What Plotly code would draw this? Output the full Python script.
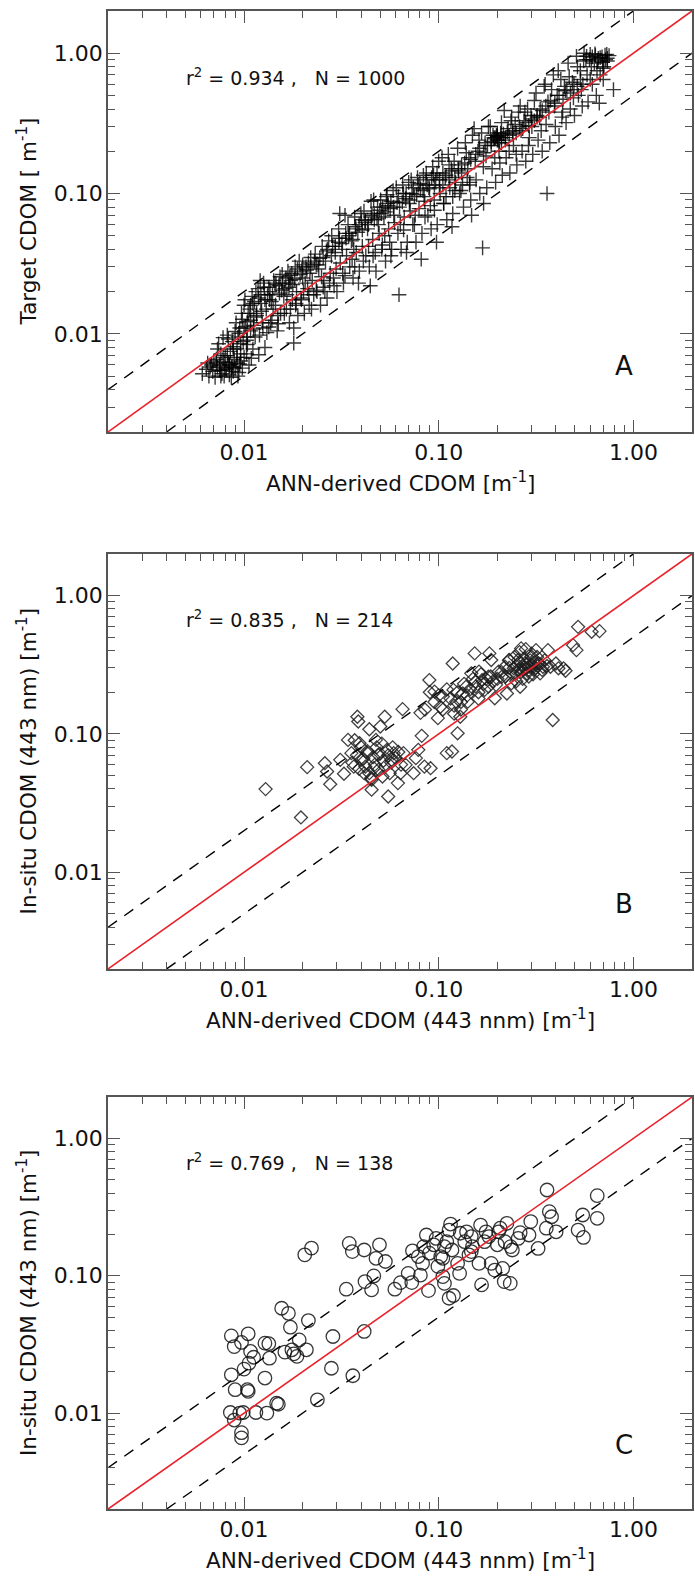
import numpy as np
import plotly.graph_objects as go

# ---------------- data ----------------
# panel A : ANN-derived vs target CDOM (plus markers)
a_x = [0.0061, 0.0064, 0.0066, 0.0068, 0.0069, 0.0070, 0.0067, 0.0065,
       0.0071, 0.0072, 0.0073, 0.0074, 0.0075, 0.0076, 0.0077, 0.0078, 0.0079, 0.0080, 0.0073, 0.0076, 0.0078, 0.0075,
       0.0081, 0.0082, 0.0083, 0.0084, 0.0085, 0.0086, 0.0087, 0.0088, 0.0089, 0.0090, 0.0082, 0.0084, 0.0086, 0.0088, 0.0090, 0.0083,
       0.0091, 0.0092, 0.0093, 0.0094, 0.0095, 0.0096, 0.0097, 0.0098, 0.0099, 0.0100, 0.0092, 0.0094, 0.0096, 0.0098, 0.0100, 0.0093,
       0.0101, 0.0103, 0.0104, 0.0106, 0.0107, 0.0108, 0.0110, 0.0111, 0.0112, 0.0113, 0.0114, 0.0102, 0.0105, 0.0109, 0.0112, 0.0115, 0.0104, 0.0108,
       0.0116, 0.0118, 0.0120, 0.0122, 0.0124, 0.0126, 0.0128, 0.0130, 0.0132, 0.0134, 0.0119, 0.0123, 0.0127, 0.0131, 0.0135, 0.0121,
       0.0136, 0.0139, 0.0142, 0.0145, 0.0148, 0.0151, 0.0154, 0.0157, 0.0160, 0.0138, 0.0144, 0.0150, 0.0156, 0.0141, 0.0153,
       0.0162, 0.0165, 0.0168, 0.0171, 0.0174, 0.0177, 0.0180, 0.0183, 0.0186, 0.0189, 0.0166, 0.0172, 0.0178, 0.0184, 0.0180, 0.0170,
       0.0192, 0.0196, 0.0200, 0.0204, 0.0208, 0.0212, 0.0216, 0.0220, 0.0224, 0.0228, 0.0198, 0.0206, 0.0214, 0.0222, 0.0202, 0.0218,
       0.0232, 0.0237, 0.0242, 0.0247, 0.0252, 0.0257, 0.0262, 0.0267, 0.0272, 0.0277, 0.0235, 0.0245, 0.0255, 0.0265, 0.0275, 0.0250,
       0.0282, 0.0288, 0.0294, 0.0300, 0.0306, 0.0312, 0.0318, 0.0324, 0.0330, 0.0336, 0.0285, 0.0297, 0.0309, 0.0321, 0.0333, 0.0310,
       0.0342, 0.0349, 0.0356, 0.0363, 0.0370, 0.0377, 0.0384, 0.0391, 0.0398, 0.0405, 0.0345, 0.0359, 0.0373, 0.0387, 0.0401, 0.0366,
       0.0413, 0.0422, 0.0431, 0.0440, 0.0449, 0.0458, 0.0467, 0.0476, 0.0485, 0.0494, 0.0418, 0.0436, 0.0454, 0.0472, 0.0490, 0.0445, 0.0463,
       0.0503, 0.0513, 0.0523, 0.0533, 0.0543, 0.0553, 0.0563, 0.0573, 0.0583, 0.0593, 0.0508, 0.0528, 0.0548, 0.0568, 0.0588, 0.0538,
       0.0605, 0.0617, 0.0629, 0.0641, 0.0653, 0.0665, 0.0677, 0.0689, 0.0701, 0.0713, 0.0611, 0.0635, 0.0659, 0.0683, 0.0707, 0.0625,
       0.0722, 0.0736, 0.0750, 0.0764, 0.0778, 0.0792, 0.0806, 0.0820, 0.0834, 0.0848, 0.0729, 0.0757, 0.0785, 0.0813, 0.0841,
       0.0863, 0.0880, 0.0897, 0.0914, 0.0931, 0.0948, 0.0965, 0.0982, 0.0999, 0.1016, 0.0872, 0.0906, 0.0940, 0.0974, 0.1008,
       0.1040, 0.1060, 0.1080, 0.1100, 0.1120, 0.1140, 0.1160, 0.1180, 0.1200, 0.1220, 0.1050, 0.1090, 0.1130, 0.1170, 0.1210,
       0.1250, 0.1280, 0.1310, 0.1340, 0.1370, 0.1400, 0.1430, 0.1460, 0.1490, 0.1265, 0.1325, 0.1385, 0.1445, 0.1475,
       0.1520, 0.1555, 0.1590, 0.1625, 0.1660, 0.1695, 0.1730, 0.1765, 0.1800, 0.1540, 0.1610, 0.1680, 0.1750, 0.1700,
       0.1840, 0.1880, 0.1920, 0.1960, 0.2000, 0.2040, 0.2080, 0.2120, 0.1860, 0.1940, 0.2020, 0.2100, 0.1980, 0.2060,
       0.2170, 0.2220, 0.2270, 0.2320, 0.2370, 0.2420, 0.2470, 0.2520, 0.2570, 0.2200, 0.2300, 0.2400, 0.2500, 0.2350,
       0.2620, 0.2680, 0.2740, 0.2800, 0.2860, 0.2920, 0.2980, 0.3040, 0.3100, 0.2650, 0.2770, 0.2890, 0.3010,
       0.3160, 0.3240, 0.3320, 0.3400, 0.3480, 0.3560, 0.3640, 0.3720, 0.3800, 0.3200, 0.3360, 0.3520, 0.3680, 0.3600,
       0.3880, 0.3970, 0.4060, 0.4150, 0.4240, 0.4330, 0.4420, 0.4510, 0.3930, 0.4110, 0.4290, 0.4470,
       0.4620, 0.4740, 0.4860, 0.4980, 0.5100, 0.5220, 0.5340, 0.5460, 0.5580, 0.4680, 0.4920, 0.5160, 0.5400,
       0.5700, 0.5850, 0.6000, 0.6150, 0.6300, 0.6450, 0.6600, 0.6750, 0.5780, 0.6080, 0.6380, 0.6680,
       0.6900, 0.7050, 0.7200, 0.7350, 0.7500, 0.7900, 0.7000, 0.7300]
a_y = [0.0052, 0.0056, 0.0050, 0.0060, 0.0054, 0.0064, 0.0058, 0.0062,
       0.0049, 0.0066, 0.0058, 0.0085, 0.0055, 0.0072, 0.0052, 0.0094, 0.0063, 0.0057, 0.0078, 0.0050, 0.0068, 0.0060,
       0.0056, 0.0098, 0.0062, 0.0051, 0.0075, 0.0058, 0.0088, 0.0054, 0.0066, 0.0104, 0.0070, 0.0060, 0.0049, 0.0081, 0.0057, 0.0092,
       0.0120, 0.0062, 0.0095, 0.0053, 0.0110, 0.0072, 0.0140, 0.0057, 0.0088, 0.0160, 0.0078, 0.0101, 0.0064, 0.0127, 0.0068, 0.0050,
       0.0175, 0.0090, 0.0122, 0.0060, 0.0150, 0.0105, 0.0185, 0.0078, 0.0132, 0.0170, 0.0095, 0.0113, 0.0140, 0.0067, 0.0115, 0.0200, 0.0084, 0.0160,
       0.0135, 0.0210, 0.0098, 0.0165, 0.0120, 0.0230, 0.0080, 0.0150, 0.0190, 0.0112, 0.0071, 0.0145, 0.0215, 0.0102, 0.0175, 0.0240,
       0.0200, 0.0125, 0.0240, 0.0160, 0.0105, 0.0220, 0.0140, 0.0265, 0.0185, 0.0170, 0.0230, 0.0118, 0.0205, 0.0150, 0.0255,
       0.0210, 0.0150, 0.0280, 0.0120, 0.0240, 0.0175, 0.0086, 0.0300, 0.0200, 0.0135, 0.0190, 0.0260, 0.0225, 0.0160, 0.0110, 0.0230,
       0.0330, 0.0180, 0.0250, 0.0140, 0.0300, 0.0210, 0.0160, 0.0350, 0.0240, 0.0190, 0.0280, 0.0230, 0.0320, 0.0150, 0.0200, 0.0270,
       0.0370, 0.0200, 0.0290, 0.0160, 0.0420, 0.0240, 0.0330, 0.0180, 0.0460, 0.0270, 0.0310, 0.0345, 0.0215, 0.0390, 0.0230, 0.0255,
       0.0500, 0.0250, 0.0380, 0.0200, 0.0560, 0.0320, 0.0440, 0.0230, 0.0700, 0.0360, 0.0420, 0.0290, 0.0480, 0.0270, 0.0520, 0.0720,
       0.0600, 0.0300, 0.0460, 0.0250, 0.0680, 0.0380, 0.0530, 0.0280, 0.0720, 0.0420, 0.0500, 0.0340, 0.0580, 0.0230, 0.0650, 0.0400,
       0.0750, 0.0360, 0.0560, 0.0300, 0.0880, 0.0470, 0.0650, 0.0280, 0.0800, 0.0520, 0.0620, 0.0420, 0.0700, 0.0380, 0.0600, 0.0220, 0.0900,
       0.0900, 0.0430, 0.0680, 0.0330, 0.0980, 0.0560, 0.0780, 0.0400, 0.1050, 0.0620, 0.0720, 0.0500, 0.0850, 0.0360, 0.0700, 0.0950,
       0.1100, 0.0520, 0.0800, 0.0400, 0.1150, 0.0680, 0.0920, 0.0450, 0.1200, 0.0750, 0.0860, 0.0600, 0.1000, 0.0380, 0.0850, 0.0190,
       0.1250, 0.0600, 0.0950, 0.0450, 0.1300, 0.0780, 0.1080, 0.0520, 0.1350, 0.0880, 0.1000, 0.0700, 0.1150, 0.0340, 0.0950,
       0.1400, 0.0700, 0.1080, 0.0560, 0.1550, 0.0900, 0.1250, 0.0600, 0.1700, 0.1000, 0.1150, 0.0820, 0.1350, 0.0450, 0.1100,
       0.1800, 0.0850, 0.1300, 0.0650, 0.1900, 0.1100, 0.1500, 0.0720, 0.1700, 0.1200, 0.1400, 0.0950, 0.1600, 0.0580, 0.1050,
       0.2100, 0.1000, 0.1600, 0.0800, 0.2300, 0.1300, 0.1800, 0.0900, 0.2600, 0.1450, 0.1150, 0.1950, 0.1200, 0.0700,
       0.2900, 0.1250, 0.2000, 0.1000, 0.2700, 0.1550, 0.2300, 0.1100, 0.3000, 0.1700, 0.2400, 0.0410, 0.1850, 0.0850,
       0.3000, 0.1500, 0.2500, 0.1200, 0.2550, 0.2000, 0.2700, 0.1350, 0.2200, 0.1800, 0.2400, 0.3200, 0.2600, 0.1650,
       0.3900, 0.1800, 0.2900, 0.1400, 0.3500, 0.2200, 0.3100, 0.1600, 0.3800, 0.2500, 0.2000, 0.2650, 0.1900, 0.3300,
       0.4200, 0.2000, 0.3300, 0.1700, 0.4000, 0.2500, 0.3600, 0.1900, 0.4600, 0.2800, 0.3800, 0.2200, 0.3000,
       0.5200, 0.2400, 0.4000, 0.2000, 0.5800, 0.3100, 0.4500, 0.2300, 0.5500, 0.3500, 0.2800, 0.6000, 0.3800, 0.1000,
       0.7000, 0.3000, 0.5000, 0.2600, 0.6500, 0.3800, 0.5800, 0.3200, 0.4200, 0.7500, 0.3500, 0.5400,
       0.8500, 0.4000, 0.6200, 0.3600, 0.9500, 0.5000, 0.7500, 0.4200, 1.0000, 0.6800, 0.4800, 0.8000, 0.5500,
       0.9000, 0.4500, 0.9800, 0.6000, 0.8500, 0.5000, 0.9200, 0.7000, 0.7000, 0.8000, 0.9600, 0.4400,
       0.9400, 0.8000, 0.9000, 0.8800, 0.9600, 0.5500, 0.6500, 0.9800]

# panel A, the denser core of the band
a_x_core = [0.0072, 0.0076, 0.0080, 0.0084, 0.0088, 0.0092, 0.0096, 0.0100, 0.0104, 0.0108, 0.0112, 0.0116,
            0.0079, 0.0087, 0.0095, 0.0103, 0.0111, 0.0119,
            0.0122, 0.0128, 0.0134, 0.0140, 0.0146, 0.0152, 0.0158, 0.0164, 0.0170, 0.0176, 0.0182, 0.0188,
            0.0194, 0.0200, 0.0210, 0.0220, 0.0230, 0.0240,
            0.0125, 0.0137, 0.0149, 0.0161, 0.0173, 0.0185, 0.0197, 0.0215, 0.0235,
            0.0255, 0.0268, 0.0281, 0.0294, 0.0307, 0.0320, 0.0334, 0.0348, 0.0362, 0.0376, 0.0390, 0.0405,
            0.0420, 0.0435, 0.0450, 0.0466, 0.0482, 0.0498, 0.0515, 0.0532, 0.0550, 0.0568, 0.0586,
            0.0260, 0.0290, 0.0330, 0.0370, 0.0410, 0.0460, 0.0510, 0.0560,
            0.0620, 0.0650, 0.0680, 0.0710, 0.0740, 0.0770, 0.0800, 0.0830, 0.0860, 0.0890, 0.0920, 0.0950,
            0.0980, 0.1010, 0.1050, 0.1090, 0.1130, 0.1170, 0.1210, 0.1260, 0.1310, 0.1360, 0.1410, 0.1460,
            0.0660, 0.0750, 0.0850, 0.0950, 0.1060, 0.1180, 0.1300, 0.1440,
            0.1550, 0.1620, 0.1700, 0.1780, 0.1860, 0.1940, 0.2000, 0.2050, 0.2100, 0.2150, 0.2200, 0.2250,
            0.2300, 0.2400, 0.2500, 0.2600, 0.2700, 0.2800, 0.2900, 0.3000, 0.3100, 0.3200, 0.3300, 0.3400,
            0.1900, 0.2000, 0.2100, 0.2000, 0.1950,
            0.3550, 0.3750, 0.3950, 0.4150, 0.4350, 0.4550, 0.4750, 0.4950, 0.5150, 0.5350,
            0.5550, 0.5750, 0.5950, 0.6150, 0.6350, 0.6550, 0.6750, 0.6950, 0.7150, 0.7350,
            0.6000, 0.6500, 0.7000, 0.5500]
a_y_core = [0.0062, 0.0055, 0.0070, 0.0060, 0.0078, 0.0068, 0.0085, 0.0110, 0.0095, 0.0125, 0.0108, 0.0140,
            0.0050, 0.0058, 0.0061, 0.0072, 0.0165, 0.0180,
            0.0190, 0.0175, 0.0215, 0.0190, 0.0225, 0.0195, 0.0230, 0.0250, 0.0215, 0.0270, 0.0245, 0.0290,
            0.0265, 0.0310, 0.0285, 0.0300, 0.0330, 0.0310,
            0.0110, 0.0120, 0.0135, 0.0140, 0.0150, 0.0165, 0.0175, 0.0190, 0.0205,
            0.0350, 0.0400, 0.0360, 0.0420, 0.0450, 0.0400, 0.0480, 0.0520, 0.0470, 0.0560, 0.0600, 0.0550,
            0.0640, 0.0600, 0.0680, 0.0720, 0.0660, 0.0760, 0.0800, 0.0740, 0.0820, 0.0880, 0.0800,
            0.0200, 0.0220, 0.0260, 0.0300, 0.0330, 0.0360, 0.0400, 0.0450,
            0.0950, 0.0870, 0.1000, 0.0900, 0.1100, 0.0980, 0.1180, 0.1050, 0.1250, 0.1100, 0.1300, 0.1150,
            0.1400, 0.1250, 0.1150, 0.1350, 0.1250, 0.1450, 0.1300, 0.1500, 0.1400, 0.1650, 0.1500, 0.1750,
            0.0550, 0.0600, 0.0680, 0.0760, 0.0850, 0.0950, 0.1050, 0.1150,
            0.1900, 0.2100, 0.1950, 0.2200, 0.2350, 0.2450, 0.2550, 0.2300, 0.2500, 0.2650, 0.2400, 0.2750,
            0.2600, 0.2800, 0.2700, 0.3000, 0.2900, 0.3200, 0.3050, 0.3400, 0.3300, 0.3600, 0.3500, 0.3900,
            0.2600, 0.2400, 0.2300, 0.2700, 0.2500,
            0.4200, 0.4600, 0.4400, 0.5000, 0.4700, 0.5500, 0.5200, 0.6000, 0.5800, 0.6500,
            0.8800, 0.9500, 0.9000, 0.9400, 0.9900, 0.8800, 0.9300, 0.8600, 0.9700, 0.9200,
            0.6500, 0.7500, 0.7800, 0.6000]

# panel B : ANN-derived vs in-situ CDOM at 443 nm (diamonds)
b_x = [0.0129, 0.0196, 0.0211, 0.0260, 0.0267, 0.0277, 0.0312, 0.0326, 0.0342, 0.0356,
       0.0366, 0.0382, 0.0386, 0.0392, 0.0400, 0.0414, 0.0429, 0.0440, 0.0452, 0.0452,
       0.0464, 0.0476, 0.0488, 0.0501, 0.0514, 0.0528, 0.0542, 0.0550, 0.0572, 0.0587,
       0.0617, 0.0636, 0.0652, 0.0659, 0.0676, 0.0743, 0.0763, 0.0785, 0.0806, 0.0818,
       0.0844, 0.0895, 0.0908, 0.0952, 0.0990, 0.102, 0.105, 0.110, 0.117, 0.118,
       0.119, 0.123, 0.125, 0.129, 0.133, 0.138, 0.141, 0.147, 0.153, 0.154,
       0.161, 0.167, 0.172, 0.180, 0.182, 0.186, 0.194, 0.197, 0.203, 0.211,
       0.219, 0.224, 0.230, 0.236, 0.243, 0.250, 0.256, 0.262, 0.265, 0.270,
       0.277, 0.284, 0.291, 0.300, 0.308, 0.316, 0.324, 0.332, 0.343, 0.364,
       0.375, 0.385, 0.400, 0.412, 0.438, 0.448, 0.490, 0.510, 0.520, 0.610, 0.670,
       0.036, 0.038, 0.039, 0.041, 0.042, 0.043, 0.044, 0.046, 0.047, 0.048,
       0.049, 0.050, 0.052, 0.053, 0.055, 0.057, 0.058, 0.060, 0.062, 0.064,
       0.040, 0.037, 0.045, 0.051, 0.056,
       0.200, 0.210, 0.220, 0.230, 0.240, 0.250, 0.255, 0.260, 0.265, 0.270,
       0.275, 0.280, 0.285, 0.290, 0.295, 0.300, 0.305, 0.310, 0.315, 0.320,
       0.330, 0.340, 0.350, 0.360, 0.230, 0.245, 0.260, 0.280, 0.300, 0.250, 0.270, 0.290,
       0.095, 0.100, 0.105, 0.110, 0.115, 0.120, 0.125, 0.130, 0.135, 0.140,
       0.145, 0.150, 0.155, 0.160, 0.165, 0.170, 0.175, 0.180, 0.185, 0.190,
       0.120, 0.130, 0.160, 0.085, 0.090]
b_y = [0.0399, 0.0249, 0.0575, 0.0614, 0.0535, 0.0433, 0.0649, 0.0515, 0.0905, 0.0726,
       0.0580, 0.133, 0.123, 0.0857, 0.0649, 0.0520, 0.0726, 0.108, 0.0466, 0.0395,
       0.0565, 0.0905, 0.0706, 0.113, 0.0492, 0.133, 0.0767, 0.0353, 0.0649, 0.0726,
       0.0441, 0.0520, 0.151, 0.0726, 0.0597, 0.0520, 0.0668, 0.0767, 0.142, 0.0968,
       0.0580, 0.245, 0.0565, 0.202, 0.130, 0.157, 0.186, 0.0726, 0.0746, 0.323,
       0.208, 0.171, 0.101, 0.133, 0.196, 0.219, 0.171, 0.274, 0.382, 0.238,
       0.282, 0.245, 0.208, 0.259, 0.382, 0.342, 0.181, 0.226, 0.282, 0.259,
       0.306, 0.196, 0.342, 0.232, 0.298, 0.274, 0.342, 0.219, 0.415, 0.290,
       0.323, 0.274, 0.306, 0.361, 0.290, 0.403, 0.323, 0.274, 0.306, 0.403,
       0.306, 0.126, 0.323, 0.298, 0.298, 0.286, 0.438, 0.403, 0.594, 0.547, 0.553,
       0.062, 0.070, 0.056, 0.066, 0.058, 0.075, 0.052, 0.068, 0.060, 0.080,
       0.055, 0.072, 0.064, 0.058, 0.070, 0.062, 0.080, 0.067, 0.074, 0.060,
       0.080, 0.090, 0.048, 0.085, 0.052,
       0.25, 0.28, 0.26, 0.30, 0.27, 0.31, 0.29, 0.33, 0.28, 0.31,
       0.35, 0.30, 0.32, 0.29, 0.34, 0.31, 0.27, 0.33, 0.30, 0.36,
       0.32, 0.29, 0.34, 0.31, 0.34, 0.36, 0.39, 0.41, 0.38, 0.24, 0.25, 0.26,
       0.17, 0.19, 0.15, 0.21, 0.18, 0.16, 0.20, 0.17, 0.23, 0.19,
       0.21, 0.25, 0.22, 0.20, 0.27, 0.23, 0.25, 0.22, 0.26, 0.24,
       0.14, 0.15, 0.18, 0.15, 0.20]

# panel C : ANN-derived vs in-situ CDOM at 443 nm (circles)
c_x = [0.0086, 0.0089, 0.0105, 0.0097, 0.0108, 0.0112, 0.0106, 0.0100, 0.0086, 0.0090,
       0.0104, 0.0105, 0.0085, 0.0089, 0.0095, 0.0099, 0.0115, 0.0131, 0.0097, 0.0097,
       0.0128, 0.0128, 0.0134, 0.0135, 0.0147, 0.0150, 0.0156, 0.0169, 0.0173, 0.0162,
       0.0176, 0.0180, 0.0187, 0.0209, 0.0192, 0.0214, 0.0205, 0.0222, 0.0238, 0.0281,
       0.0286, 0.0335, 0.0347, 0.0360, 0.0362, 0.0414, 0.0414, 0.0418, 0.0452, 0.0464,
       0.0476, 0.0496, 0.0532, 0.0595, 0.0636, 0.0697, 0.0727, 0.0733, 0.0805, 0.0785,
       0.0836, 0.0864, 0.0886, 0.0895, 0.0942, 0.0990, 0.1024, 0.105, 0.105, 0.107,
       0.110, 0.113, 0.115, 0.113, 0.119, 0.125, 0.128, 0.129, 0.136, 0.143,
       0.147, 0.149, 0.164, 0.161, 0.166, 0.172, 0.175, 0.186, 0.194, 0.200,
       0.207, 0.213, 0.217, 0.219, 0.224, 0.233, 0.234, 0.239, 0.256, 0.262,
       0.291, 0.297, 0.324, 0.357, 0.360, 0.370, 0.380, 0.401, 0.520, 0.549,
       0.554, 0.652, 0.652, 0.107, 0.117, 0.139, 0.203, 0.0826, 0.147, 0.097, 0.181]
c_y = [0.0365, 0.0305, 0.0378, 0.0327, 0.0281, 0.0255, 0.0231, 0.0209, 0.0190, 0.0148,
       0.0148, 0.0144, 0.0101, 0.0089, 0.0100, 0.0101, 0.0101, 0.0100, 0.0072, 0.0066,
       0.0180, 0.0323, 0.0320, 0.0251, 0.0118, 0.0116, 0.0580, 0.0533, 0.0422, 0.0278,
       0.0289, 0.0270, 0.0259, 0.0289, 0.0341, 0.0472, 0.142, 0.159, 0.0125, 0.0212,
       0.0361, 0.0798, 0.172, 0.150, 0.0187, 0.154, 0.0393, 0.0907, 0.0789, 0.0997,
       0.134, 0.168, 0.127, 0.0798, 0.0891, 0.104, 0.0892, 0.152, 0.101, 0.138,
       0.163, 0.198, 0.078, 0.146, 0.168, 0.117, 0.138, 0.134, 0.0986, 0.088,
       0.177, 0.215, 0.238, 0.0686, 0.0718, 0.123, 0.104, 0.204, 0.177, 0.142,
       0.193, 0.163, 0.234, 0.123, 0.0858, 0.177, 0.209, 0.123, 0.110, 0.168,
       0.222, 0.113, 0.0907, 0.177, 0.241, 0.088, 0.163, 0.154, 0.187, 0.206,
       0.198, 0.248, 0.158, 0.222, 0.421, 0.293, 0.269, 0.209, 0.215, 0.277,
       0.190, 0.262, 0.383, 0.163, 0.154, 0.209, 0.209, 0.123, 0.150, 0.187, 0.193]

# reference lines: 1:1, x2 and x0.5
one_x = [0.002, 2.0]
one_y = [0.002, 2.0]
up_x = [0.002, 1.0]
up_y = [0.004, 2.0]
lo_x = [0.004, 2.0]
lo_y = [0.002, 1.0]

tick_vals = [0.01, 0.1, 1.0]
tick_text = ['0.01', '0.10', '1.00']
minor_vals = [m * 10.0 ** e for e in (-3, -2, -1, 0) for m in range(2, 10) if 0.002 <= m * 10.0 ** e <= 2]

stats = ['r<sup>2</sup> = 0.934 ,\u00a0\u00a0\u00a0N = 1000',
         'r<sup>2</sup> = 0.835 ,\u00a0\u00a0\u00a0N = 214',
         'r<sup>2</sup> = 0.769 ,\u00a0\u00a0\u00a0N = 138']
letters = ['A', 'B', 'C']
x_titles = ['ANN-derived CDOM [m<sup>-1</sup>]',
            'ANN-derived CDOM (443 nnm) [m<sup>-1</sup>]',
            'ANN-derived CDOM (443 nnm) [m<sup>-1</sup>]']
y_titles = ['Target CDOM [ m<sup>-1</sup>]',
            'In-situ CDOM (443 nm) [m<sup>-1</sup>]',
            'In-situ CDOM (443 nm) [m<sup>-1</sup>]']

# ---------------- figure ----------------
W, H = 695, 1584
FONT = 'DejaVu Sans, Liberation Sans, Arial, sans-serif'
domains = [[0.7273, 0.9931], [0.3883, 0.6503], [0.0473, 0.3074]]

markers = [
    dict(symbol='cross-thin', size=10.5, color='rgba(0,0,0,0.78)',
         line=dict(width=1.4, color='rgba(0,0,0,0.78)')),
    dict(symbol='diamond-open', size=10, color='rgba(30,30,30,0.85)',
         line=dict(width=1.3, color='rgba(30,30,30,0.85)')),
    dict(symbol='circle-open', size=13.5, color='rgba(20,20,20,0.85)',
         line=dict(width=1.3, color='rgba(20,20,20,0.85)')),
]
series = [(a_x + a_x_core, a_y + a_y_core), (b_x, b_y), (c_x, c_y)]

fig = go.Figure()
layout = dict(width=W, height=H, paper_bgcolor='white', plot_bgcolor='white',
              margin=dict(l=108, r=3, t=0, b=0), showlegend=False,
              font=dict(family=FONT, color='#111'))
annotations = []

for i in range(3):
    sfx = '' if i == 0 else str(i + 1)
    xa, ya = 'x' + sfx, 'y' + sfx
    sx, sy = series[i]
    fig.add_trace(go.Scatter(x=sx, y=sy, mode='markers', marker=markers[i],
                             xaxis=xa, yaxis=ya, hoverinfo='x+y'))
    fig.add_trace(go.Scatter(x=up_x, y=up_y, mode='lines', xaxis=xa, yaxis=ya,
                             line=dict(color='black', width=1.4, dash='11px,9px'), hoverinfo='skip'))
    fig.add_trace(go.Scatter(x=lo_x, y=lo_y, mode='lines', xaxis=xa, yaxis=ya,
                             line=dict(color='black', width=1.4, dash='11px,9px'), hoverinfo='skip'))
    fig.add_trace(go.Scatter(x=one_x, y=one_y, mode='lines', xaxis=xa, yaxis=ya,
                             line=dict(color='#e8232b', width=1.6), hoverinfo='skip'))

    common = dict(type='log', range=[np.log10(0.002), np.log10(2)],
                  showline=True, linecolor='#555', linewidth=1.5, mirror='allticks',
                  ticks='inside', ticklen=12, tickwidth=1.3, tickcolor='#555',
                  tickmode='array', tickvals=tick_vals, ticktext=tick_text,
                  minor=dict(ticks='inside', ticklen=7, tickwidth=1.2, tickcolor='#555',
                             tickmode='array', tickvals=minor_vals, showgrid=False),
                  showgrid=False, zeroline=False, automargin=False,
                  tickfont=dict(family=FONT, size=22, color='#111'))
    layout['xaxis' + sfx] = dict(common, domain=[0, 1], anchor=ya)
    layout['yaxis' + sfx] = dict(common, domain=domains[i], anchor=xa, ticklabelstandoff=-1)

    dref = lambda a: a + ' domain'
    annotations.append(dict(text=stats[i], xref=dref(xa), yref=dref(ya), x=0.13, y=0.843,
                            xanchor='left', yanchor='middle', showarrow=False,
                            font=dict(family=FONT, size=19, color='#111')))
    annotations.append(dict(text=letters[i], xref=dref(xa), yref=dref(ya), x=0.884, y=0.156,
                            xanchor='center', yanchor='middle', showarrow=False,
                            font=dict(family=FONT, size=26, color='#111')))
    annotations.append(dict(text=x_titles[i], xref=dref(xa), yref=dref(ya), x=0.5, y=0,
                            xanchor='center', yanchor='middle', yshift=-50, showarrow=False,
                            font=dict(family=FONT, size=21.5, color='#111')))
    annotations.append(dict(text=y_titles[i], xref=dref(xa), yref=dref(ya), x=0, y=0.5,
                            xanchor='center', yanchor='middle', xshift=-81, textangle=-90,
                            showarrow=False, font=dict(family=FONT, size=21.5, color='#111')))

layout['annotations'] = annotations
fig.update_layout(**layout)
# the page's default body margin would shift the figure by 8 px
fig.write_html('out.html', config={'displayModeBar': False},
               post_script="document.body.style.margin='0';")
